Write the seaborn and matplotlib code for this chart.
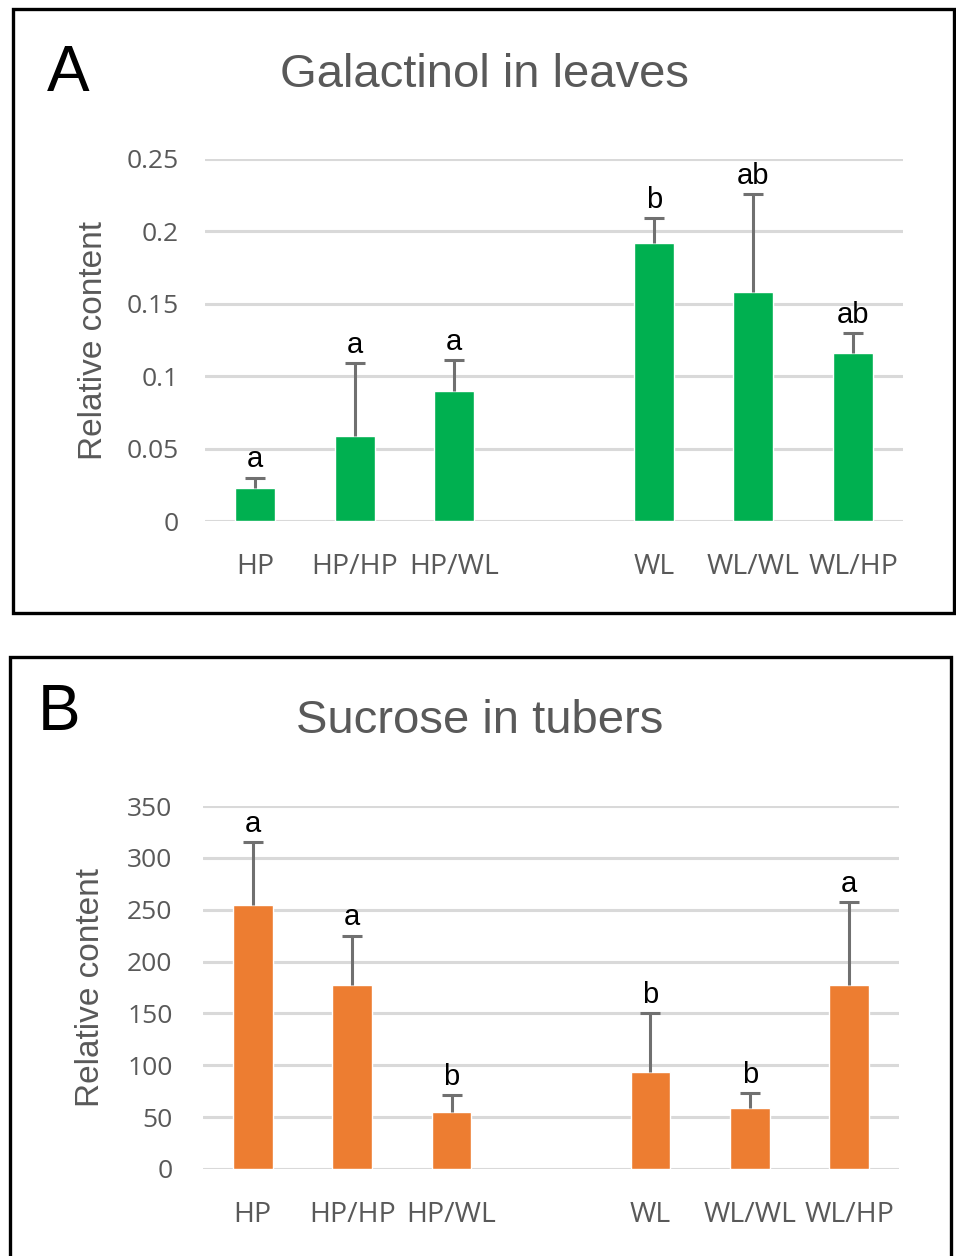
import numpy as np
import pandas as pd
import matplotlib
matplotlib.use('Agg')
import matplotlib.pyplot as plt
import seaborn as sns
from matplotlib.patches import Rectangle

# data
groups = ['HP', 'HP/HP', 'HP/WL', 'WL', 'WL/WL', 'WL/HP']
order = ['HP', 'HP/HP', 'HP/WL', ' ', 'WL', 'WL/WL', 'WL/HP']   # blank slot between the two sets

galactinol = [0.023, 0.059, 0.090, 0.192, 0.158, 0.116]
galactinol_err = [0.007, 0.050, 0.021, 0.017, 0.068, 0.014]
galactinol_marks = ['a', 'a', 'a', 'b', 'ab', 'ab']
galactinol_ticks = [0, 0.05, 0.1, 0.15, 0.2, 0.25]
galactinol_labels = ['0', '0.05', '0.1', '0.15', '0.2', '0.25']

sucrose = [255, 177, 55, 94, 59, 177]
sucrose_err = [60, 48, 16, 56, 14, 80]
sucrose_marks = ['a', 'a', 'b', 'b', 'b', 'a']
sucrose_ticks = [0, 50, 100, 150, 200, 250, 300, 350]
sucrose_labels = ['0', '50', '100', '150', '200', '250', '300', '350']

sns.set_style('white')
plt.rcParams['font.family'] = ['Liberation Sans', 'DejaVu Sans']

GREY = '#595959'
W, H = 956, 1256

fig = plt.figure(figsize=(W / 100, H / 100), dpi=100)
axA = fig.add_axes([205 / W, 1 - 521 / H, 698 / W, 362 / H])
axB = fig.add_axes([203 / W, 1 - 1169 / H, 696 / W, 363 / H])


def draw(ax, vals, errs, marks, color, ticks, labels, ypad, lab_x):
    df = pd.DataFrame({'group': groups, 'value': vals})
    sns.barplot(data=df, x='group', y='value', order=order, color=color,
                width=0.4, saturation=1, errorbar=None, ax=ax, zorder=2)
    pos = [order.index(g) for g in groups]
    eb = ax.errorbar(pos, vals, yerr=[np.zeros(len(vals)), errs], fmt='none',
                     ecolor='#707070', elinewidth=2.2, capsize=7.5, capthick=2.2, zorder=3)
    eb[1][0].set_visible(False)   # only the upper cap
    for p, v, e, m in zip(pos, vals, errs, marks):
        ax.annotate(m, (p, v + e), xytext=(0, 3), textcoords='offset points',
                    ha='center', va='bottom', fontsize=21, color='black')
    ax.set_xlim(-0.5, len(order) - 0.5)
    ax.set_ylim(ticks[0], ticks[-1])
    ax.set_yticks(ticks, labels)
    ax.yaxis.grid(True, color='#d9d9d9', lw=2.2)
    ax.set_axisbelow(True)
    for s in ax.spines.values():
        s.set_visible(False)
    ax.tick_params(axis='both', length=0, labelsize=19, labelcolor=GREY)
    ax.tick_params(axis='x', labelsize=20.5, pad=23)
    ax.tick_params(axis='y', pad=ypad)
    for t in ax.get_xticklabels() + ax.get_yticklabels():
        t.set_fontfamily(['Open Sans', 'DejaVu Sans'])
    ax.set_xlabel('')
    ax.set_ylabel('Relative content', fontsize=24, color=GREY)
    ax.yaxis.set_label_coords(lab_x, 0.5)


draw(axA, galactinol, galactinol_err, galactinol_marks, '#00B050',
     galactinol_ticks, galactinol_labels, 19, -0.138)
draw(axB, sucrose, sucrose_err, sucrose_marks, '#ED7D31',
     sucrose_ticks, sucrose_labels, 22, -0.139)

fig.text(484 / W, 1 - 75 / H, 'Galactinol in leaves', ha='center', va='center',
         fontsize=34, color=GREY)
fig.text(480 / W, 1 - 721 / H, 'Sucrose in tubers', ha='center', va='center',
         fontsize=34, color=GREY)
fig.text(47 / W, 1 - 91 / H, 'A', ha='left', va='baseline', fontsize=46, color='black')
fig.text(38 / W, 1 - 730 / H, 'B', ha='left', va='baseline', fontsize=46, color='black')

# panel frames
fig.add_artist(Rectangle((13 / W, 1 - 613 / H), 941 / W, 604 / H, transform=fig.transFigure,
                         fill=False, edgecolor='black', lw=2.4))
fig.add_artist(Rectangle((10 / W, -0.01), 941 / W, (H - 657) / H + 0.01, transform=fig.transFigure,
                         fill=False, edgecolor='black', lw=2.4))

fig.savefig('out.png', dpi=100)
